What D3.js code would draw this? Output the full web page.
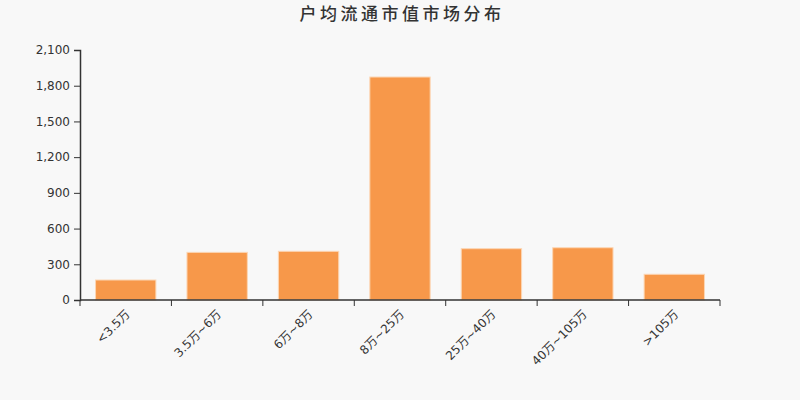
<!DOCTYPE html>
<html lang="zh">
<head>
<meta charset="utf-8">
<title>户均流通市值市场分布</title>
<script src="https://cdn.jsdelivr.net/npm/d3@7/dist/d3.min.js"></script>
<style>
  body { margin: 0; background: #f8f8f8; }
  svg { display: block; background: #f8f8f8; font-family: "DejaVu Sans", "Noto Sans CJK SC", sans-serif; }
</style>
</head>
<body>
<svg width="800" height="400" id="mainsvg"></svg>
<script>
  // 数据
  const categories = ['<3.5万', '3.5万~6万', '6万~8万', '8万~25万', '25万~40万', '40万~105万', '>105万'];
  const values = [168, 400, 409, 1873, 431, 439, 216];
  const yTicks = [0, 300, 600, 900, 1200, 1500, 1800, 2100];

  const svg = d3.select('#mainsvg');
  const width = +svg.attr('width');
  const height = +svg.attr('height');
  const margin = { top: 50, right: 80, bottom: 100, left: 80 };
  const innerWidth = width - margin.left - margin.right;
  const innerHeight = height - margin.top - margin.bottom;

  // 比例尺
  const xScale = d3.scaleBand()
    .domain(categories)
    .range([0, innerWidth])
    .paddingInner(0.34)
    .paddingOuter(0.17);
  const yScale = d3.scaleLinear()
    .domain([0, 2100])
    .range([innerHeight, 0]);

  const g = svg.append('g')
    .attr('transform', `translate(${margin.left}, ${margin.top})`);

  // 标题
  svg.append('text')
    .text('户均流通市值市场分布')
    .attr('x', width / 2 + 2)
    .attr('y', 20)
    .attr('text-anchor', 'middle')
    .attr('font-size', 17)
    .attr('font-weight', 500)
    .attr('letter-spacing', 3.5)
    .attr('font-family', '"Noto Sans CJK SC", sans-serif')
    .attr('fill', '#333');

  // 柱子
  g.selectAll('rect.bar')
    .data(values)
    .join('rect')
    .attr('class', 'bar')
    .attr('x', (d, i) => xScale(categories[i]))
    .attr('y', d => yScale(d))
    .attr('width', xScale.bandwidth())
    .attr('height', d => innerHeight - yScale(d))
    .attr('fill', '#f7984a')
    .attr('stroke', '#fcd6b4')
    .attr('stroke-width', 1);

  // 坐标轴
  const yAxis = d3.axisLeft(yScale)
    .tickValues(yTicks)
    .tickSize(6)
    .tickPadding(4)
    .tickFormat(d3.format(','));
  const yg = g.append('g').call(yAxis);

  // x轴刻度在类别之间
  const boundaries = d3.range(categories.length + 1).map(i => i * innerWidth / categories.length);
  const xg = g.append('g').attr('transform', `translate(0, ${innerHeight})`);
  xg.append('line')
    .attr('x1', 0).attr('x2', innerWidth)
    .attr('stroke', '#333').attr('stroke-width', 1.5);
  xg.selectAll('line.tick')
    .data(boundaries)
    .join('line')
    .attr('class', 'tick')
    .attr('x1', d => d).attr('x2', d => d)
    .attr('y1', 0).attr('y2', 6)
    .attr('stroke', '#333');
  xg.selectAll('text')
    .data(categories)
    .join('text')
    .text(d => d)
    .attr('transform', d => `translate(${xScale(d) + xScale.bandwidth() / 2 + 2}, 12) rotate(-45)`)
    .attr('text-anchor', 'end')
    .attr('dy', '0.35em')
    .attr('font-size', 12)
    .attr('fill', '#333');

  yg.select('.domain').attr('stroke', '#333').attr('stroke-width', 1.5);
  yg.selectAll('.tick line').attr('stroke', '#333');
  yg.selectAll('.tick text').attr('font-size', 12).attr('fill', '#333')
    .attr('font-family', '"DejaVu Sans", sans-serif');
</script>
</body>
</html>
